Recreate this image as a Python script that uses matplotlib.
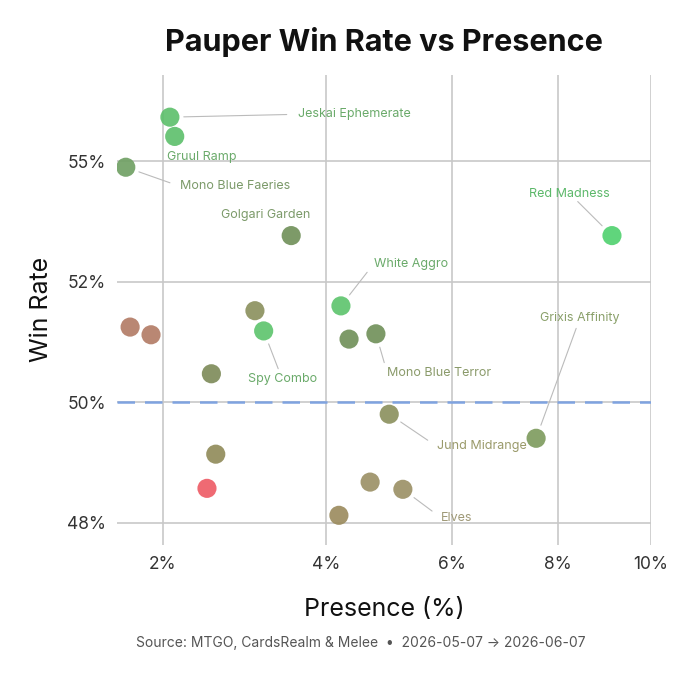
import numpy as np
import matplotlib.pyplot as plt
from matplotlib.ticker import FixedLocator

plt.rcParams['font.family'] = ['Inter', 'DejaVu Sans']

# data (presence %, win rate %)
presence = [2.07, 2.12, 1.64, 3.51, 9.14, 4.21, 1.68, 1.88, 3.04, 3.15, 4.33, 4.74,
            2.52, 4.95, 7.57, 2.57, 2.47, 4.65, 5.17, 4.18]
win_rate = [55.92, 55.52, 54.88, 53.46, 53.46, 52.0, 51.56, 51.40, 51.90, 51.48, 51.31, 51.42,
            50.59, 49.75, 49.25, 48.92, 48.21, 48.34, 48.19, 47.65]
colors = ['#5cbf6a', '#5cbf6a', '#6e9f62', '#6f8f58', '#4fd16e', '#5cc46c', '#b27a64', '#b27a64',
          '#8a8f5c', '#5cc46c', '#6f8f58', '#6f8f58', '#7c8a58', '#8a8f5c', '#7c9a5c', '#8f8a58',
          '#ee5a64', '#9a8f64', '#9a8f64', '#9a8a5c']
labels = {0: 'Jeskai Ephemerate', 1: 'Gruul Ramp', 2: 'Mono Blue Faeries', 3: 'Golgari Garden',
          4: 'Red Madness', 5: 'White Aggro', 9: 'Spy Combo', 11: 'Mono Blue Terror',
          13: 'Jund Midrange', 14: 'Grixis Affinity', 18: 'Elves'}
# label anchor (presence, win rate, horizontal alignment, connector)
label_pos = {0: (3.60, 55.98, 'left', True), 1: (2.04, 55.10, 'left', False),
             2: (2.18, 54.48, 'left', True), 3: (3.18, 53.88, 'center', False),
             4: (8.25, 54.33, 'center', True), 5: (4.71, 52.88, 'left', True),
             9: (3.39, 50.48, 'center', True), 11: (4.92, 50.60, 'left', True),
             13: (5.74, 49.08, 'left', True), 14: (8.46, 51.75, 'center', True),
             18: (5.81, 47.60, 'left', True)}
label_colors = {0: '#6aaa6a', 1: '#6aaa6a', 2: '#7c9a6a', 3: '#7c9a6a', 4: '#5cb86a',
                5: '#6aaa6a', 9: '#6aaa6a', 11: '#8a9a6a', 13: '#9a9a6a', 14: '#8aa06a',
                18: '#a09a78'}
x_ticks = [2, 4, 6, 8, 10]
y_ticks = [47.5, 50, 52.5, 55]
y_tick_labels = ['48%', '50%', '52%', '55%']

fig = plt.figure(figsize=(6.8, 6.8), dpi=100)
ax = fig.add_axes([0.172, 0.199, 0.785, 0.691])
ax.set_xscale('function', functions=(np.sqrt, np.square))
ax.set_xlim(1.56, 10.0)
ax.set_ylim(47.04, 56.8)

ax.scatter(presence, win_rate, s=190, c=colors, alpha=0.9, edgecolors='none', zorder=3)
ax.axhline(50, color='#7fa3e0', lw=1.8, ls=(0, (7, 4)), zorder=2)

for i, name in labels.items():
    lx, ly, ha, line = label_pos[i]
    ax.text(lx, ly, name, color=label_colors[i], fontsize=9, ha=ha, va='center', zorder=4)
    if line:
        ax.annotate('', xy=(presence[i], win_rate[i]), xytext=(lx, ly),
                    arrowprops=dict(arrowstyle='-', color='#bbbbbb', lw=0.8,
                                    shrinkA=8, shrinkB=10), zorder=1)

ax.xaxis.set_major_locator(FixedLocator(x_ticks))
ax.set_xticklabels([f'{t}%' for t in x_ticks])
ax.yaxis.set_major_locator(FixedLocator(y_ticks))
ax.set_yticklabels(y_tick_labels)
ax.minorticks_off()
ax.grid(True, color='#c8c8c8', lw=1.2)
ax.set_axisbelow(True)
for s in ax.spines.values():
    s.set_visible(False)
ax.tick_params(length=0, labelsize=12.5, colors='#333333', pad=8)
ax.set_xlabel('Presence (%)', fontsize=18, color='#111111', labelpad=18)
ax.set_ylabel('Win Rate', fontsize=18, color='#111111', labelpad=10)
fig.text(0.565, 0.938, 'Pauper Win Rate vs Presence', fontsize=22, fontweight='bold',
         ha='center', va='center', color='#111111')
fig.text(0.53, 0.055, 'Source: MTGO, CardsRealm & Melee  •  2026-05-07 → 2026-06-07',
         fontsize=10, ha='center', va='center', color='#555555')

fig.savefig('out.png', dpi=100)
